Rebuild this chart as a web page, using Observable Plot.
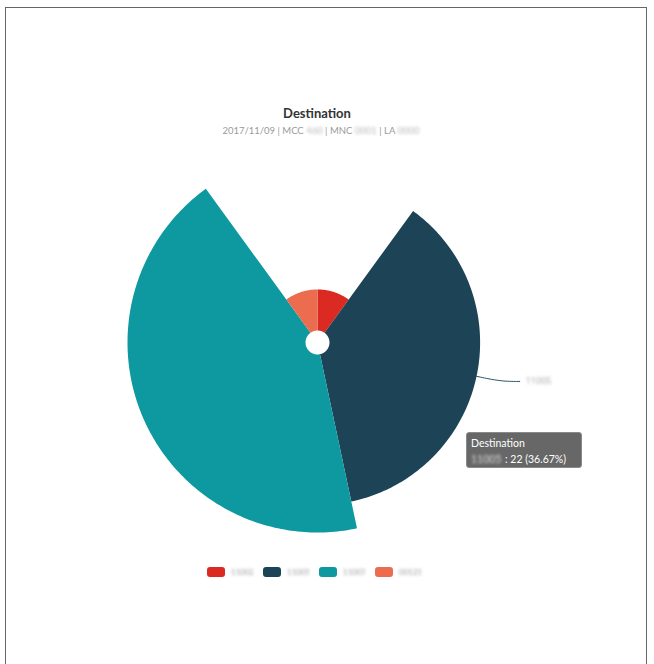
<!DOCTYPE html>
<html>
<head>
<meta charset="utf-8">
<script src="https://cdn.jsdelivr.net/npm/d3@7"></script>
<script src="https://cdn.jsdelivr.net/npm/@observablehq/plot@0.6"></script>
<style>
  html, body { margin: 0; padding: 0; background: #fff; width: 654px; height: 664px; overflow: hidden; font-family: Lato, "Open Sans", sans-serif; }
  #frame { position: absolute; left: 5px; top: 7px; width: 642px; height: 700px; border: 1px solid #666; box-sizing: border-box; }
  #chart { position: absolute; left: 0; top: 0; }
  #title { position: absolute; left: 0; width: 634px; top: 105px; text-align: center; font-weight: 700; font-size: 13px; color: #333; }
  #subtitle { position: absolute; left: 4px; width: 634px; top: 125px; text-align: center; font-size: 9.5px; color: #9a9a9a; }
  .blur { filter: blur(1.6px); color: #b8b8b8; }
  #legend { position: absolute; top: 567px; left: 207px; display: flex; align-items: center; font-size: 9px; color: #aaa; }
  .item { display: flex; align-items: center; margin-right: 10px; }
  .sw { width: 18px; height: 10px; border-radius: 3px; margin-right: 6px; }
  .lab { filter: blur(1.8px); color: #999; width: 22px; overflow: hidden; white-space: nowrap; font-size: 8px; }
  #tip { position: absolute; left: 466px; top: 432px; width: 116px; height: 36px; box-sizing: border-box; background: rgba(90,90,90,0.92); border: 1px solid #8a8a8a; border-radius: 3px; color: #fff; font-size: 10.5px; padding: 2px 4px; line-height: 16px; }
  #tip .nm { filter: blur(1.8px); color: #ddd; display: inline-block; width: 34px; }
</style>
</head>
<body>
<div id="frame"></div>
<div id="chart"></div>
<div id="title"></div>
<div id="subtitle"></div>
<div id="legend"></div>
<div id="tip"></div>
<script>
// ---- data (labels are blurred there) ----
const names = ["11002", "11005", "11007", "00121"];
const values = [6, 22, 26, 6];
const colors = ["#da2a21", "#1d4456", "#0e989f", "#ec6c4f"];
const titleText = "Destination";
const subtitleDate = "2017/11/09";
const subtitleKeys = ["MCC", "MNC", "LA"];
const subtitleVals = ["460", "0001", "0000"];
const highlighted = 1; // index of slice shown in tooltip

// ---- geometry (built from the data) ----
const total = d3.sum(values);
const hole = 0.063;
const rScale = d3.scaleLinear().domain([0, d3.max(values)]).range([hole, 1]);
const slices = [];
let acc = 0;
values.forEach((v, i) => {
  const a0 = acc / total * 360, a1 = (acc + v) / total * 360;
  acc += v;
  slices.push({name: names[i], value: v, a0, a1, r: rScale(v)});
});
const rad = a => a * Math.PI / 180;
const pts = [];
for (const s of slices) {
  const n = Math.max(2, Math.ceil(s.a1 - s.a0));
  for (let k = 0; k <= n; k++) {
    const a = rad(s.a0 + (s.a1 - s.a0) * k / n);
    pts.push({name: s.name, x: s.r * Math.sin(a), y: s.r * Math.cos(a)});
  }
  for (let k = n; k >= 0; k--) {
    const a = rad(s.a0 + (s.a1 - s.a0) * k / n);
    pts.push({name: s.name, x: hole * Math.sin(a), y: hole * Math.cos(a)});
  }
}
// leader line for highlighted slice
const hs = slices[highlighted];
const mid = rad((hs.a0 + hs.a1) / 2);
const p1 = {x: hs.r * Math.sin(mid), y: hs.r * Math.cos(mid)};
const p2 = {x: (hs.r + 0.13) * Math.sin(mid), y: (hs.r + 0.13) * Math.cos(mid)};
const p3 = {x: p2.x + 0.1, y: p2.y};
const leader = [p1, p2, p3];

const plot = Plot.plot({
  width: 654,
  height: 664,
  margin: 0,
  x: {domain: [-1, 1], range: [127, 507], axis: null},
  y: {domain: [-1, 1], range: [532, 152], axis: null},
  color: {domain: names, range: colors},
  marks: [
    Plot.line(pts, {x: "x", y: "y", z: "name", fill: "name", stroke: null, curve: "linear"}),
    Plot.line(leader, {x: "x", y: "y", stroke: "#2c5466", strokeWidth: 1, curve: "basis"}),
    Plot.text([p3], {x: "x", y: "y", text: () => hs.name, textAnchor: "start", dx: 6, fill: "#aaa", fontSize: 9})
  ]
});
plot.querySelectorAll("g[aria-label='text'] text").forEach(t => t.setAttribute("style", "filter: blur(1.6px)"));
document.getElementById("chart").appendChild(plot);

// ---- title / subtitle ----
document.getElementById("title").textContent = titleText;
const sub = document.getElementById("subtitle");
sub.innerHTML = subtitleDate + subtitleKeys.map((k, i) => ` | ${k} <span class="blur">${subtitleVals[i]}</span>`).join("");

// ---- legend ----
const leg = document.getElementById("legend");
names.forEach((n, i) => {
  const it = document.createElement("div");
  it.className = "item";
  it.innerHTML = `<div class="sw" style="background:${colors[i]}"></div><span class="lab">${n}</span>`;
  leg.appendChild(it);
});

// ---- tooltip ----
const pct = (hs.value / total * 100).toFixed(2);
document.getElementById("tip").innerHTML = `${titleText}<br><span class="nm">${hs.name}</span>: ${hs.value} (${pct}%)`;
</script>
</body>
</html>
